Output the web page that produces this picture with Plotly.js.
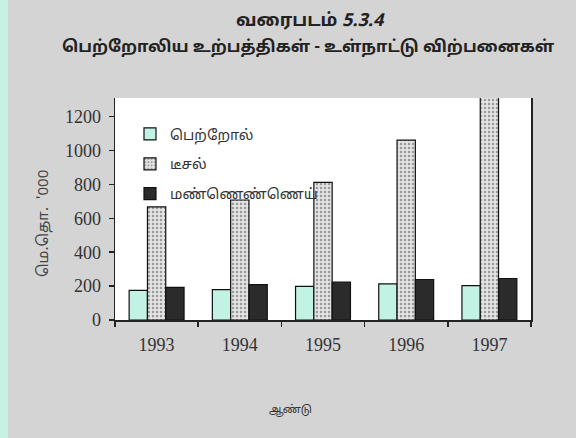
<!DOCTYPE html>
<html>
<head>
<meta charset="utf-8">
<script src="https://cdn.plot.ly/plotly-3.0.1.min.js"></script>
<style>html,body{margin:0;padding:0;background:#d2d2d2;}#chart{width:576px;height:438px;}</style>
</head>
<body>
<div id="chart"></div>
<script>
const years = ['1993', '1994', '1995', '1996', '1997'];
const petrol = [175, 179, 199, 213, 203];
const diesel = [667, 708, 812, 1061, 1450];
const kerosene = [193, 209, 223, 239, 245];
const seriesNames = ['பெற்றோல்', 'டீசல்', 'மண்ணெண்ணெய்'];
const yTicks = [0, 200, 400, 600, 800, 1000, 1200];
const titleLine1 = 'வரைபடம் <i>5.3.4</i>';
const titleLine2 = 'பெற்றோலிய உற்பத்திகள் - உள்நாட்டு விற்பனைகள்';
const xTitle = 'ஆண்டு';
const yTitle = "மெ.தொ.  '000";

const serif = 'Liberation Serif, Times New Roman, serif';
const tamil = 'Noto Sans Tamil, Lohit Tamil, Noto Sans, sans-serif';

const traces = [
  {type: 'bar', name: seriesNames[0], x: years, y: petrol, legendgroup: 'a',
   marker: {color: '#c2f2e4', line: {color: '#111', width: 1.2}}},
  {type: 'bar', name: seriesNames[1], x: years, y: diesel, legendgroup: 'b',
   marker: {color: '#dcdcdc', line: {color: '#111', width: 1.2},
            pattern: {shape: '.', fgcolor: '#9a9a9a', bgcolor: '#e4e4e4', size: 4, solidity: 0.3}}},
  {type: 'bar', name: seriesNames[2], x: years, y: kerosene, legendgroup: 'c',
   marker: {color: '#2b2b2b', line: {color: '#111', width: 1.2}}}
];

const L = 115, R = 576 - 531, T = 98, B = 438 - 320;
const pw = 576 - L - R, ph = 438 - T - B;
const px = (x) => (x - L) / pw;
const py = (y) => (438 - B - y) / ph;

const layout = {
  width: 576, height: 438,
  margin: {l: L, r: R, t: T, b: B, pad: 0},
  paper_bgcolor: '#d4d4d4',
  plot_bgcolor: '#ffffff',
  barmode: 'group',
  bargap: 0.34,
  bargroupgap: 0,
  showlegend: true,
  legend: {x: px(130), y: py(118), xanchor: 'left', yanchor: 'top',
           bgcolor: 'rgba(0,0,0,0)', font: {family: tamil, size: 14.5, color: '#333'},
           itemwidth: 30, tracegroupgap: 8},
  xaxis: {type: 'category', showline: true, linecolor: '#222', linewidth: 1.5,
          ticks: 'outside', ticklen: 5, tickcolor: '#222', tickwidth: 1.5,
          tickson: 'boundaries', ticklabelstandoff: 8,
          tickfont: {family: serif, size: 18, color: '#333'},
          showgrid: false, zeroline: false, mirror: false},
  yaxis: {range: [0, 1310], tickvals: yTicks, ticktext: yTicks.map(String),
          showline: true, linecolor: '#222', linewidth: 1.5, mirror: true,
          ticks: 'outside', ticklen: 5, tickcolor: '#222', tickwidth: 1.5,
          ticklabelstandoff: 4,
          tickfont: {family: serif, size: 18, color: '#333'},
          showgrid: false, zeroline: false},
  annotations: [
    {text: '<b>' + titleLine1 + '</b>', xref: 'paper', yref: 'paper', x: px(310), y: py(22),
     xanchor: 'center', yanchor: 'middle', showarrow: false,
     font: {family: tamil, size: 18, color: '#222'}},
    {text: '<b>' + titleLine2 + '</b>', xref: 'paper', yref: 'paper', x: px(308), y: py(48),
     xanchor: 'center', yanchor: 'middle', showarrow: false,
     font: {family: tamil, size: 16.5, color: '#222'}},
    {text: xTitle, xref: 'paper', yref: 'paper', x: px(290), y: py(410),
     xanchor: 'center', yanchor: 'middle', showarrow: false,
     font: {family: tamil, size: 11, color: '#333'}},
    {text: yTitle, xref: 'paper', yref: 'paper', x: px(44), y: py(224),
     xanchor: 'center', yanchor: 'middle', showarrow: false, textangle: -90,
     font: {family: tamil, size: 15, color: '#444'}}
  ],
  shapes: [
    {type: 'rect', xref: 'paper', yref: 'paper', layer: 'below',
     x0: px(0), x1: px(8), y0: -2, y1: 2,
     fillcolor: '#c6f2e6', line: {width: 0}}
  ]
};

Plotly.newPlot('chart', traces, layout, {displayModeBar: false, staticPlot: true});
</script>
</body>
</html>
